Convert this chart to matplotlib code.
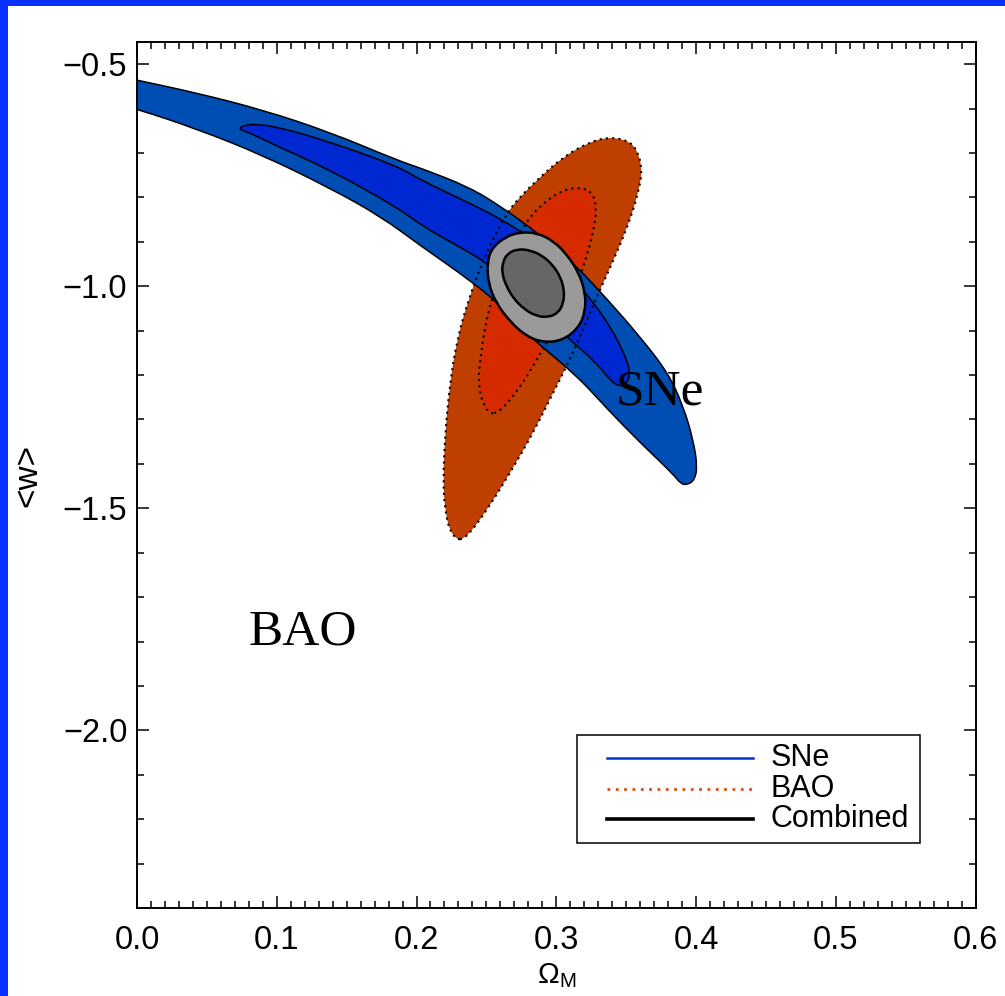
import numpy as np
import matplotlib
matplotlib.use("Agg")
import matplotlib.pyplot as plt
from matplotlib.path import Path
from matplotlib.patches import PathPatch, Rectangle

plt.rcParams['font.family'] = ['Liberation Sans', 'DejaVu Sans']
plt.rcParams['mathtext.fontset'] = 'custom'
plt.rcParams['mathtext.rm'] = 'Liberation Sans'
plt.rcParams['mathtext.it'] = 'Liberation Sans'

# ---------------- data (contour outlines) ----------------
# SNe 2-sigma region
sne_outer_om = [-0.0193, 0.0, 0.043, 0.090, 0.138, 0.186, 0.203, 0.238, 0.262, 0.281,
                0.299, 0.315, 0.337, 0.360, 0.380, 0.391, 0.398, 0.401, 0.399, 0.394,
                0.389, 0.384, 0.360, 0.337, 0.314, 0.281, 0.260, 0.238, 0.203, 0.174,
                0.138, 0.090, 0.043, 0.0, -0.0193]
sne_outer_w = [-0.5225, -0.536, -0.565, -0.603, -0.653, -0.716, -0.734, -0.777, -0.824, -0.867,
               -0.912, -0.957, -1.031, -1.114, -1.195, -1.271, -1.346, -1.406, -1.436, -1.447,
               -1.445, -1.424, -1.352, -1.278, -1.199, -1.114, -1.042, -0.986, -0.909, -0.842,
               -0.779, -0.705, -0.646, -0.601, -0.585]
# SNe 1-sigma region
sne_inner_om = [0.0723, 0.0773, 0.0845, 0.102, 0.138, 0.186, 0.203, 0.238, 0.262, 0.289,
                0.310, 0.328, 0.340, 0.349, 0.353, 0.351, 0.3465,
                0.340, 0.328, 0.308, 0.292, 0.274, 0.251, 0.226, 0.203, 0.186, 0.138,
                0.102, 0.081]
sne_inner_w = [-0.646, -0.637, -0.635, -0.642, -0.675, -0.729, -0.761, -0.813, -0.851, -0.907,
               -0.975, -1.042, -1.098, -1.154, -1.193, -1.217, -1.226,
               -1.217, -1.170, -1.116, -1.064, -1.008, -0.948, -0.903, -0.862, -0.822, -0.738,
               -0.687, -0.655]
# BAO 2-sigma region
bao_outer_om = [0.229, 0.2234, 0.2205, 0.219, 0.2205, 0.224, 0.229, 0.237, 0.249, 0.2635,
                0.274, 0.2885, 0.305, 0.322, 0.3365, 0.351, 0.358, 0.3616, 0.3587, 0.351,
                0.3387, 0.329, 0.3186, 0.308, 0.298, 0.2835, 0.267, 0.2506, 0.2384, 0.2334]
bao_outer_w = [-1.571, -1.548, -1.503, -1.442, -1.330, -1.217, -1.121, -1.031, -0.930, -0.840,
               -0.799, -0.754, -0.709, -0.678, -0.664, -0.671, -0.693, -0.738, -0.790, -0.867,
               -0.957, -1.024, -1.103, -1.177, -1.238, -1.330, -1.420, -1.503, -1.555, -1.568]
# BAO 1-sigma region
bao_inner_om = [0.2527, 0.2477, 0.244, 0.2456, 0.2485, 0.254, 0.2635, 0.2728, 0.2828, 0.2936,
                0.305, 0.317, 0.3258, 0.329, 0.327, 0.322, 0.314, 0.303, 0.292, 0.2828,
                0.2728, 0.262, 0.257]
bao_inner_w = [-1.287, -1.267, -1.217, -1.166, -1.098, -1.026, -0.945, -0.885, -0.837, -0.806,
               -0.783, -0.777, -0.788, -0.822, -0.873, -0.930, -1.008, -1.076, -1.132, -1.184,
               -1.233, -1.274, -1.285]
# Combined 2-sigma region
comb_outer_om = [0.2506, 0.254, 0.2635, 0.2742, 0.2864, 0.298, 0.308, 0.3158, 0.3208, 0.3208,
                 0.3158, 0.305, 0.292, 0.2792, 0.267, 0.257, 0.2513]
comb_outer_w = [-0.945, -0.914, -0.889, -0.878, -0.880, -0.898, -0.930, -0.968, -1.013, -1.058,
                -1.094, -1.121, -1.127, -1.114, -1.080, -1.038, -0.993]
# Combined 1-sigma region
comb_inner_om = [0.2615, 0.2650, 0.2725, 0.2814, 0.2900, 0.2975, 0.3030, 0.3057, 0.3052, 0.3014,
                 0.2943, 0.2857, 0.2772, 0.2695, 0.2642, 0.2613]
comb_inner_w = [-0.948, -0.926, -0.916, -0.919, -0.931, -0.952, -0.979, -1.008, -1.038, -1.060,
                -1.070, -1.067, -1.052, -1.028, -0.999, -0.972]

legend_labels = ['SNe', 'BAO', 'Combined']
xticks = [0.0, 0.1, 0.2, 0.3, 0.4, 0.5, 0.6]
yticks = [-0.5, -1.0, -1.5, -2.0]

# ---------------- colours ----------------
c_sne_out, c_sne_in = '#004DB3', '#0028D2'
c_bao_out, c_bao_in = '#BF3F00', '#D62A00'
c_comb_out, c_comb_in = '#9A9A9A', '#666666'
c_border = '#0A30FF'


def smooth_path(xs, ys):
    pts = np.column_stack([xs, ys])
    mids = (pts + np.roll(pts, -1, axis=0)) / 2.0
    verts = [mids[-1]]
    codes = [Path.MOVETO]
    for i in range(len(pts)):
        verts += [pts[i], mids[i]]
        codes += [Path.CURVE3, Path.CURVE3]
    verts.append(mids[-1])
    codes.append(Path.CLOSEPOLY)
    return Path(verts, codes)


fig = plt.figure(figsize=(10.05, 9.96), dpi=100)
ax = fig.add_axes([137 / 1005, 1 - 908 / 996, (975.5 - 137) / 1005, (908 - 42) / 996])

# BAO fills (underneath)
ax.add_patch(PathPatch(smooth_path(bao_outer_om, bao_outer_w), facecolor=c_bao_out,
                       edgecolor='none', zorder=1))
ax.add_patch(PathPatch(smooth_path(bao_inner_om, bao_inner_w), facecolor=c_bao_in,
                       edgecolor='none', zorder=1.1))
# SNe fills with solid outlines
ax.add_patch(PathPatch(smooth_path(sne_outer_om, sne_outer_w), facecolor=c_sne_out,
                       edgecolor='black', lw=1.1, zorder=2))
ax.add_patch(PathPatch(smooth_path(sne_inner_om, sne_inner_w), facecolor=c_sne_in,
                       edgecolor='black', lw=1.1, zorder=2.1))
# BAO dotted outlines
for oms, ws in [(bao_outer_om, bao_outer_w), (bao_inner_om, bao_inner_w)]:
    ax.add_patch(PathPatch(smooth_path(oms, ws), fill=False, edgecolor='black',
                           lw=1.5, linestyle=(0, (1, 2.0)), zorder=3))
# Combined
ax.add_patch(PathPatch(smooth_path(comb_outer_om, comb_outer_w), facecolor=c_comb_out,
                       edgecolor='black', lw=1.8, zorder=4))
ax.add_patch(PathPatch(smooth_path(comb_inner_om, comb_inner_w), facecolor=c_comb_in,
                       edgecolor='black', lw=1.8, zorder=4.1))

ax.text(0.1185, -1.8067, 'BAO', family='Liberation Serif', fontsize=37,
        ha='center', va='baseline', zorder=6)
ax.text(0.3741, -1.267, 'SNe', family='Liberation Serif', fontsize=37,
        ha='center', va='baseline', zorder=6)

ax.set_xlim(0.0, 0.6)
ax.set_ylim(-2.4, -0.45)
ax.set_xticks(xticks)
ax.set_xticklabels([f'{v:.1f}' for v in xticks])
ax.set_yticks(yticks)
ax.set_yticklabels([f'{v:.1f}'.replace('-', '\u2212') for v in yticks])
ax.set_xticks(np.arange(0, 0.6001, 0.01), minor=True)
ax.set_yticks(np.arange(-2.4, -0.44, 0.1), minor=True)
ax.tick_params(which='both', direction='in', top=True, right=True, width=1.1,
               colors='black')
ax.tick_params(which='major', length=8.5, labelsize=23.5, pad=7)
ax.tick_params(axis='x', which='major', pad=12)
ax.tick_params(which='minor', length=5)
for s in ax.spines.values():
    s.set_linewidth(1.4)

ax.set_xlabel(r'$\Omega_{\mathrm{M}}$', fontsize=21, labelpad=4)
ax.set_ylabel('<w>', fontsize=24, labelpad=14)

# legend box (drawn in axes coordinates)
tr = ax.transAxes
ax.add_patch(Rectangle((0.5244, 0.0751), 0.4100, 0.1247, transform=tr, facecolor='white',
                       edgecolor='black', lw=1.1, zorder=7))
leg_y = [0.1732, 0.1374, 0.1028]
leg_styles = [dict(color='#0033CC', lw=1.8, ls='-'),
              dict(color='#D5501A', lw=2.0, ls=(0, (1, 2))),
              dict(color='black', lw=2.6, ls='-')]
for lab, yy, st in zip(legend_labels, leg_y, leg_styles):
    ax.plot([0.5602, 0.7342], [yy, yy], transform=tr, zorder=8, **st)
    ax.text(0.7560, yy, lab, transform=tr, fontsize=22, ha='left', va='center', zorder=8)

# blue frame of the slide
fig.patches.append(Rectangle((0, 0), 8 / 1005, 1, transform=fig.transFigure,
                             facecolor=c_border, edgecolor='none', zorder=10))
fig.patches.append(Rectangle((0, 1 - 6 / 996), 1, 6 / 996, transform=fig.transFigure,
                             facecolor=c_border, edgecolor='none', zorder=10))

fig.savefig('out.png', dpi=100)
